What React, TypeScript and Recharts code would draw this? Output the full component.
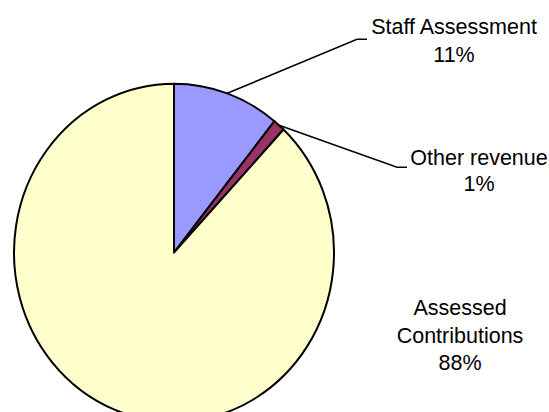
import React from "react";
import { PieChart, Pie, Cell } from "recharts";

const categories = ["Staff Assessment", "Other revenue", "Assessed Contributions"];
const values = [10.8, 1.2, 88.0];
const percentLabels = ["11%", "1%", "88%"];
const colors = ["#9999FF", "#993366", "#FFFFCC"];

const data = categories.map((name, i) => ({ name, value: values[i], pct: percentLabels[i] }));

const RAD = Math.PI / 180;
const ASPECT = 169 / 160;
const FONT = "'Liberation Sans', Arial, sans-serif";

// label layout, relative to pie centre
const labelLayout = [
  { elbow: [183, -213.4], textX: 280, baseY: -218.7, lines: 1, gap: 27.6 },
  { elbow: [223, -85.4], textX: 305, baseY: -88, lines: 1, gap: 26.5 },
  { elbow: null, textX: 286, baseY: 62.3, lines: 2, gap: 27.6 },
];

const EllipseSector = (props: any) => {
  const { cx, cy, outerRadius, startAngle, endAngle, fill } = props;
  const rx = outerRadius;
  const ry = outerRadius * ASPECT;
  const p = (a: number) => [cx + rx * Math.cos(a * RAD), cy - ry * Math.sin(a * RAD)];
  const [x1, y1] = p(startAngle);
  const [x2, y2] = p(endAngle);
  const delta = startAngle - endAngle;
  const large = Math.abs(delta) > 180 ? 1 : 0;
  const sweep = delta > 0 ? 1 : 0;
  const d = `M${cx},${cy} L${x1},${y1} A${rx},${ry} 0 ${large} ${sweep} ${x2},${y2} Z`;
  return <path d={d} fill={fill} stroke="#000" strokeWidth={2} strokeLinejoin="round" />;
};

const renderLabel = (props: any) => {
  const { cx, cy, midAngle, outerRadius, index, name, payload } = props;
  const lay = labelLayout[index];
  const rx = outerRadius;
  const ry = outerRadius * ASPECT;
  const sx = cx + rx * Math.cos(midAngle * RAD);
  const sy = cy - ry * Math.sin(midAngle * RAD);
  const words = lay.lines === 2 ? name.split(" ") : [name];
  const lines = [...words, payload.pct ?? percentLabels[index]];
  const tx = cx + lay.textX;
  const ty = cy + lay.baseY;
  return (
    <g key={`lbl-${index}`}>
      {lay.elbow && (
        <polyline
          points={`${sx},${sy} ${cx + lay.elbow[0]},${cy + lay.elbow[1]} ${cx + lay.elbow[0] + 10},${cy + lay.elbow[1]}`}
          fill="none"
          stroke="#000"
          strokeWidth={1.6}
        />
      )}
      <text x={tx} y={ty} textAnchor="middle" fontFamily={FONT} fontSize={21.5} fill="#000">
        {lines.map((l: string, i: number) => (
          <tspan key={i} x={tx} dy={i === 0 ? 0 : lay.gap}>
            {l}
          </tspan>
        ))}
      </text>
    </g>
  );
};

export default function App() {
  return (
    <div style={{ position: "absolute", left: 0, top: 0, width: 549, height: 412, background: "#fff" }}>
      <PieChart width={549} height={412} margin={{ top: 0, right: 0, bottom: 0, left: 0 }}>
        <Pie
          data={data}
          dataKey="value"
          nameKey="name"
          cx={174}
          cy={252.7}
          outerRadius={160}
          startAngle={90}
          endAngle={-270}
          isAnimationActive={false}
          shape={EllipseSector}
          activeShape={EllipseSector}
          inactiveShape={EllipseSector}
          label={renderLabel}
          labelLine={false}
          stroke="#000"
        >
          {data.map((d, i) => (
            <Cell key={d.name} fill={colors[i]} />
          ))}
        </Pie>
      </PieChart>
    </div>
  );
}
